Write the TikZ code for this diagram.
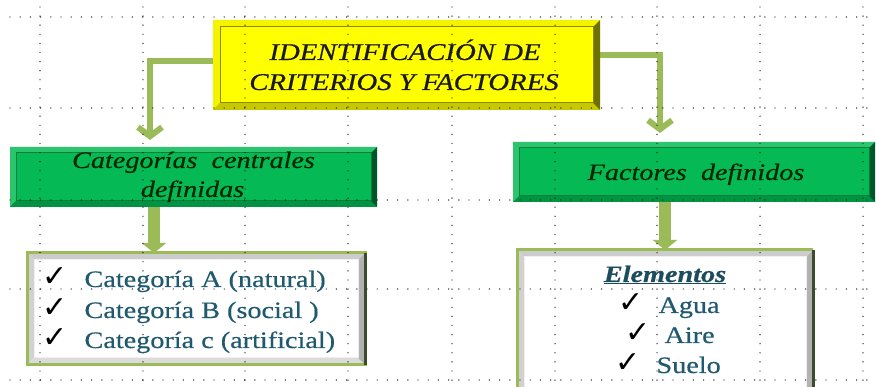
\documentclass[tikz,border=0pt]{standalone}
\usepackage{fontspec}
\setmainfont{Liberation Serif}[FakeStretch=1.2,FakeBold=0.5]
\newfontfamily\checkfont{DejaVu Sans}
\usetikzlibrary{arrows.meta,calc}
\definecolor{ylw}{HTML}{FFFF00}
\definecolor{ylwtop}{HTML}{F4F400}
\definecolor{ylwbot}{HTML}{C8C800}
\definecolor{ylwright}{HTML}{707000}
\definecolor{ylwline}{HTML}{8A8A00}
\definecolor{grn}{HTML}{05B955}
\definecolor{grntop}{HTML}{2CC46C}
\definecolor{grnbot}{HTML}{009442}
\definecolor{grnright}{HTML}{00552A}
\definecolor{grnline}{HTML}{00803A}
\definecolor{olive}{HTML}{9BBB59}
\definecolor{darkedge}{HTML}{3E4C2C}
\definecolor{teal}{HTML}{1F5A70}
\definecolor{tealdark}{HTML}{1D4C5E}
\newcommand\bevelframe[7]{% node, width, top, left, bottom, right, inner line
  \fill[#3] (#1.north west) -- (#1.north east) -- ($(#1.north east)+(-#2,#2)$) -- ($(#1.north west)+(#2,#2)$) -- cycle;
  \fill[#4] (#1.north west) -- ($(#1.north west)+(#2,#2)$) -- ($(#1.south west)+(#2,-#2)$) -- (#1.south west) -- cycle;
  \fill[#5] (#1.south west) -- ($(#1.south west)+(#2,-#2)$) -- ($(#1.south east)+(-#2,-#2)$) -- (#1.south east) -- cycle;
  \fill[#6] (#1.north east) -- (#1.south east) -- ($(#1.south east)+(-#2,-#2)$) -- ($(#1.north east)+(-#2,#2)$) -- cycle;
  \draw[#7, line width=1pt] ($(#1.north west)+(#2,#2)$) rectangle ($(#1.south east)+(-#2,-#2)$);
}
\begin{document}
\begin{tikzpicture}[x=1pt,y=-1pt,
  box/.style={rectangle, inner sep=0pt, outer sep=0pt},
  ybox/.style={box, fill=ylw},
  gbox/.style={box, fill=grn},
  lbox/.style={box, fill=white},
  conn/.style={draw=olive, line width=6pt, -{Straight Barb[length=9pt,width=24pt]}},
  blockarrow/.style={draw=olive, line width=12pt, -{Triangle[width=24pt,length=10pt]}},
  vdots/.style={black!90, line width=1.4pt, line cap=round, dash pattern=on 0pt off 9.1pt},
  hdots/.style={black!90, line width=1.4pt, line cap=round, dash pattern=on 0pt off 10.2pt},
  bigtext/.style={font=\fontsize{24}{28}\selectfont\itshape, text=black!90},
  gtext/.style={font=\fontsize{23.5}{28}\selectfont\itshape, text=black!85!green},
  ltext/.style={font=\fontsize{23.5}{28}\selectfont, text=teal},
  chk/.style={font=\checkfont\fontsize{30}{32}\selectfont, text=black, inner sep=0pt},
]
\clip (0,0) rectangle (876,387);
\fill[white] (0,0) rectangle (876,387);

% boxes
\node[ybox, minimum width=387pt, minimum height=90pt] (id) at (406.5,65) {};
\node[gbox, minimum width=367pt, minimum height=60pt] (g1) at (193.5,177) {};
\node[gbox, minimum width=362pt, minimum height=60pt] (g2) at (694,172) {};
\node[lbox, minimum width=338pt, minimum height=112pt] (l1) at (196,309) {};
\node[lbox, minimum width=296pt, minimum height=160pt] (l2) at (665,330) {};

% connectors
\draw[conn, shorten >=7pt] ([yshift=4pt]id.west) -| ([xshift=-43.5pt]g1.north);
\draw[conn, shorten >=9pt] ([yshift=10pt]id.east) -| ([xshift=-34pt]g2.north);
\draw[blockarrow] ([xshift=-39.5pt]g1.south) -- ([xshift=-42pt]l1.north);
\draw[blockarrow] ([xshift=-29pt]g2.south) -- (l2.north);

% bevels
\bevelframe{id}{7}{ylwtop}{ylwtop}{ylwbot}{ylwright}{ylwline}
\bevelframe{g1}{6}{grntop}{grntop}{grnbot}{grnright}{grnline}
\bevelframe{g2}{6}{grntop}{grntop}{grnbot}{grnright}{grnline}
\bevelframe{l1}{7}{black!20}{black!18}{black!14}{black!30}{black!6}
\bevelframe{l2}{7}{black!20}{black!18}{black!14}{black!30}{black!6}
\draw[olive, line width=3pt] (l1.north west) rectangle (l1.south east);
\draw[darkedge, line width=3pt] (l1.north east) -- (l1.south east);
\draw[olive, line width=3pt] (l2.south west) -- (l2.north west) -- (l2.north east);
\draw[darkedge, line width=3pt] (l2.north east) -- (l2.south east);

% dotted grid
\foreach \x in {40,143,245,348,452,555,657,760,863}
  \draw[vdots] (\x,7) -- (\x,392);
\foreach \y in {17,108,200,289,380}
  \draw[hdots] (10,\y) -- (880,\y);

% texts
\node[bigtext, anchor=base] (t1) at (405,60) {IDENTIFICACIÓN DE};
\node[bigtext, anchor=base] (t2) at (404,90) {CRITERIOS Y FACTORES};
\node[gtext, anchor=base] (c1) at (193.5,168) {Categorías\ \ centrales};
\node[gtext, anchor=base] (c2) at (192.5,197) {definidas};
\node[gtext, anchor=base] (f1) at (696,180) {Factores\ \ definidos};

\node[chk, anchor=base west] (k1) at (42,287) {✓};
\node[chk, anchor=base west] (k2) at (42,318) {✓};
\node[chk, anchor=base west] (k3) at (42,348) {✓};
\node[ltext, anchor=base west] (a1) at (81,287) {Categoría A (natural)};
\node[ltext, anchor=base west] (a2) at (81,318) {Categoría B (social )};
\node[ltext, anchor=base west] (a3) at (81,348) {Categoría c (artificial)};

\node[ltext, anchor=base, text=tealdark, font=\fontsize{23.5}{28}\selectfont\bfseries\itshape] (el) at (665,282) {\underline{Elementos}};
\node[chk, anchor=base west] (k4) at (618,313) {✓};
\node[chk, anchor=base west] (k5) at (625,343) {✓};
\node[chk, anchor=base west] (k6) at (615,373) {✓};
\node[ltext, anchor=base west] (e1) at (655,313) {Agua};
\node[ltext, anchor=base west] (e2) at (661,343) {Aire};
\node[ltext, anchor=base west] (e3) at (653,373) {Suelo};
\end{tikzpicture}
\end{document}
